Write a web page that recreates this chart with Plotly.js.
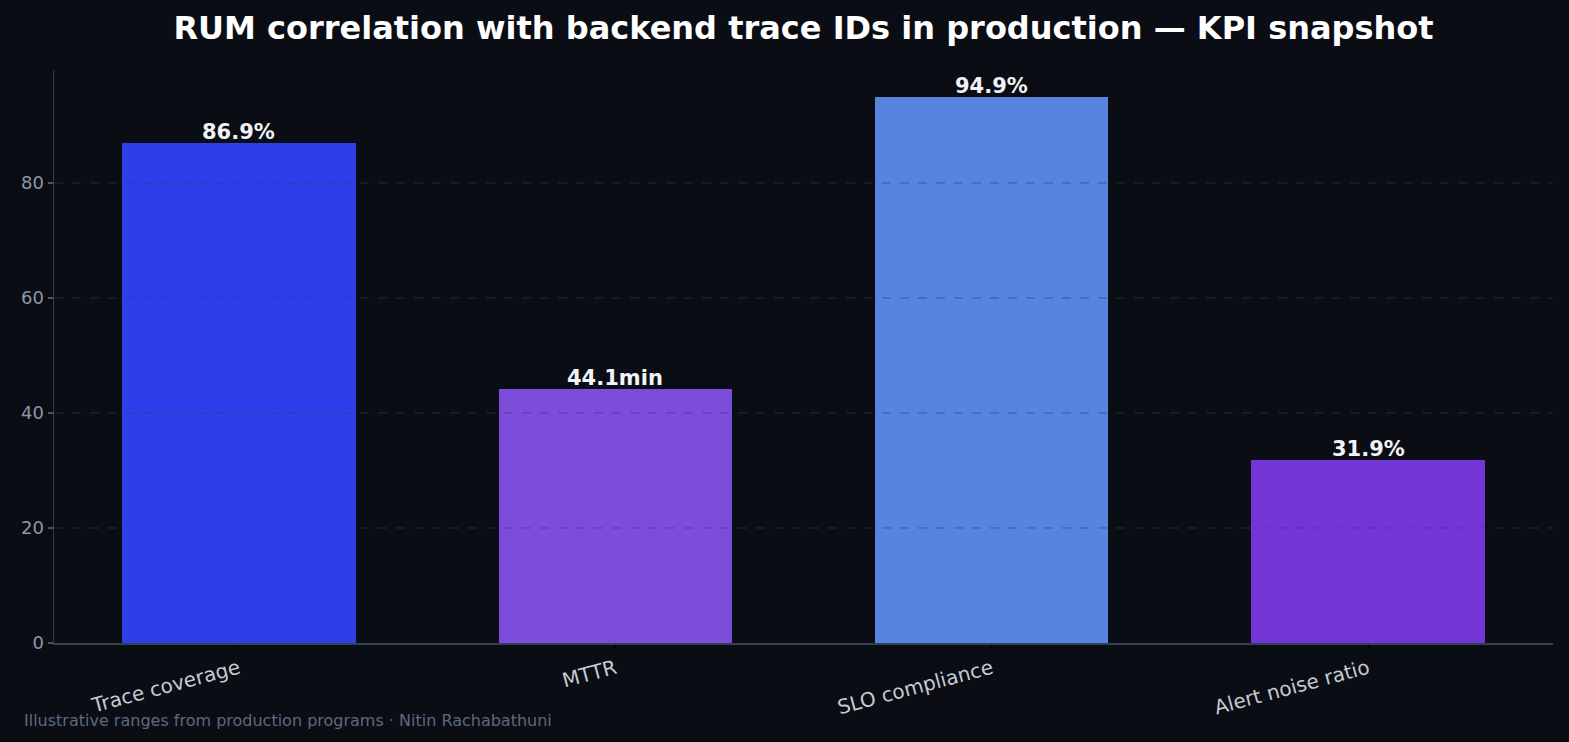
<!DOCTYPE html>
<html>
<head>
<meta charset="utf-8">
<script src="https://cdn.plot.ly/plotly-3.0.1.min.js"></script>
<style>html,body{margin:0;padding:0;background:#0a0d14;}#chart{width:1569px;height:742px;}</style>
</head>
<body>
<div id="chart"></div>
<script>
const categories = ["Trace coverage", "MTTR", "SLO compliance", "Alert noise ratio"];
const values = [86.9, 44.1, 94.9, 31.9];
const valueLabels = ["86.9%", "44.1min", "94.9%", "31.9%"];
const barColors = ["#2e3ee9", "#7c4ddb", "#5684de", "#7335d8"];
const yTicks = [0, 20, 40, 60, 80];

const maxVal = Math.max(...values);
const gridShapes = yTicks.filter(v => v > 0).map(v => ({
  type: "line", xref: "paper", yref: "y", x0: 0, x1: 1, y0: v, y1: v,
  layer: "above", line: {color: "rgba(51,65,85,0.6)", width: 1, dash: "dash"}
}));

const valueAnnotations = categories.map((c, i) => ({
  x: c, y: values[i], xref: "x", yref: "y",
  text: "<b>" + valueLabels[i] + "</b>",
  showarrow: false, xanchor: "center", yanchor: "bottom", yshift: -3,
  font: {family: "DejaVu Sans", size: 21, color: "#f1f3f6"}
}));

const trace = {
  type: "bar",
  x: categories,
  y: values,
  marker: {color: barColors, line: {width: 0}},
  width: 0.62,
  hoverinfo: "skip"
};

const layout = {
  width: 1569, height: 742,
  paper_bgcolor: "#0a0d14", plot_bgcolor: "#0a0d14",
  margin: {l: 54, r: 16, t: 70, b: 99},
  font: {family: "DejaVu Sans", color: "#8b97aa"},
  title: {text: "<b>RUM correlation with backend trace IDs in production — KPI snapshot</b>",
    font: {family: "DejaVu Sans", size: 32, color: "#ffffff"}, xref: "paper", x: 0.5, xanchor: "center", y: 0.962, yanchor: "middle"},
  bargap: 0,
  xaxis: {
    range: [-0.491, 3.491], showgrid: false, zeroline: false,
    showline: true, linecolor: "#334155", linewidth: 1.5,
    ticks: "outside", ticklen: 5, tickcolor: "#000000", tickwidth: 1,
    tickangle: -15, tickfont: {family: "DejaVu Sans", size: 20, color: "#c5cad3"}
  },
  yaxis: {
    range: [0, maxVal * 1.05], tickvals: yTicks, showgrid: false, zeroline: false,
    showline: true, linecolor: "#2f3a4a", linewidth: 1.5,
    ticks: "outside", ticklen: 5, tickcolor: "#4a5568", tickwidth: 1.5,
    tickfont: {family: "DejaVu Sans", size: 18, color: "#8b97aa"}
  },
  shapes: gridShapes,
  annotations: valueAnnotations.concat([{
    text: "Illustrative ranges from production programs · Nitin Rachabathuni",
    xref: "paper", yref: "paper", x: -0.0212, y: -0.135, xanchor: "left", yanchor: "middle",
    showarrow: false, font: {family: "DejaVu Sans", size: 16, color: "#5c6a80"}
  }]),
  showlegend: false
};

Plotly.newPlot("chart", [trace], layout, {displayModeBar: false, staticPlot: true});
</script>
</body>
</html>
